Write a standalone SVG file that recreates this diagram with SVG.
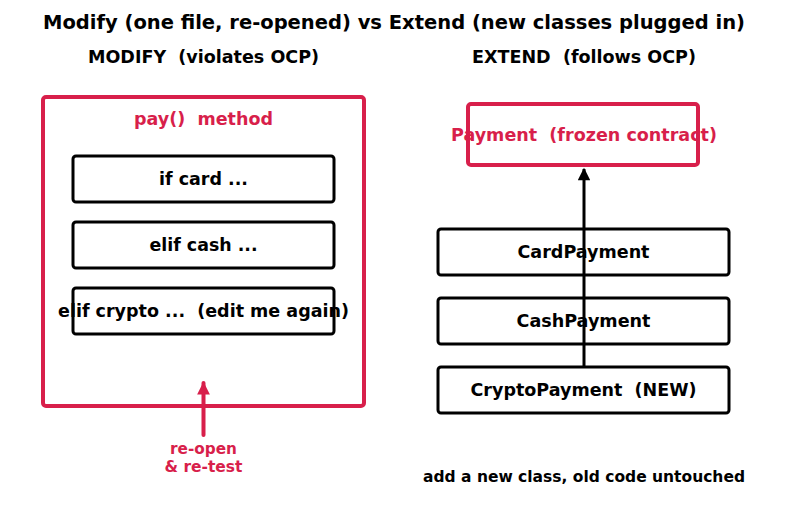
<svg xmlns="http://www.w3.org/2000/svg" width="787" height="507" viewBox="0 0 787 507">
<style>
text{font-family:"DejaVu Sans","Liberation Sans",sans-serif;font-weight:bold;text-anchor:middle;dominant-baseline:central;white-space:pre}
.hd{font-family:"DejaVu Sans Condensed","DejaVu Sans",sans-serif}
.red{fill:#d81f4b}
.lbl{font-size:17.5px;fill:#000}
.box{fill:#fff;stroke:#000;stroke-width:3}
.rbox{fill:none;stroke:#d81f4b;stroke-width:4}
</style>
<defs>
<marker id="ahR" viewBox="0 0 10 10" refX="9" refY="5" markerWidth="3.2" markerHeight="3.2" orient="auto" markerUnits="strokeWidth"><path d="M0,0 L10,5 L0,10 z" fill="#d81f4b"/></marker>
<marker id="ahK" viewBox="0 0 10 10" refX="9" refY="5" markerWidth="4.6" markerHeight="4.2" orient="auto" markerUnits="strokeWidth"><path d="M0,0 L10,5 L0,10 z" fill="#000"/></marker>
</defs>
<rect width="787" height="507" fill="#fff"/>
<text class="hd" x="394" y="22" font-size="19" textLength="702" lengthAdjust="spacingAndGlyphs" xml:space="preserve">Modify (one file, re-opened) vs Extend (new classes plugged in)</text>
<text class="hd" x="203.5" y="57" font-size="17" textLength="231" lengthAdjust="spacingAndGlyphs" xml:space="preserve">MODIFY  (violates OCP)</text>
<text class="hd" x="584" y="57" font-size="17" textLength="224" lengthAdjust="spacingAndGlyphs" xml:space="preserve">EXTEND  (follows OCP)</text>
<g id="modify">
<rect class="rbox" x="43" y="97" width="321" height="309" rx="3"/>
<text class="red" x="203.5" y="119" font-size="17" textLength="139" lengthAdjust="spacingAndGlyphs" xml:space="preserve">pay()  method</text>
</g>
<g id="if-card">
<rect class="box" x="73" y="156" width="261" height="46" rx="3"/>
<text class="lbl" x="203.5" y="179" textLength="89" lengthAdjust="spacingAndGlyphs">if card ...</text>
</g>
<g id="elif-cash">
<rect class="box" x="73" y="222" width="261" height="46" rx="3"/>
<text class="lbl" x="203.5" y="245" textLength="108" lengthAdjust="spacingAndGlyphs">elif cash ...</text>
</g>
<g id="elif-crypto">
<rect class="box" x="73" y="288" width="261" height="46" rx="3"/>
<text class="lbl" x="203.5" y="311" textLength="291" lengthAdjust="spacingAndGlyphs" xml:space="preserve">elif crypto ...  (edit me again)</text>
</g>
<g id="reopen-label">
<text class="red" x="203.5" y="449" font-size="15" textLength="67" lengthAdjust="spacingAndGlyphs">re-open</text>
<text class="red" x="203.5" y="467" font-size="15" textLength="78" lengthAdjust="spacingAndGlyphs">&amp; re-test</text>
</g>
<g id="payment">
<rect class="rbox" x="468" y="104" width="230" height="61" rx="3"/>
<text class="red" x="584" y="135" font-size="17" textLength="266" lengthAdjust="spacingAndGlyphs" xml:space="preserve">Payment  (frozen contract)</text>
</g>
<g id="card-payment">
<rect class="box" x="438" y="229" width="291" height="46" rx="3"/>
<text class="lbl" x="583.5" y="252" textLength="132" lengthAdjust="spacingAndGlyphs">CardPayment</text>
</g>
<g id="cash-payment">
<rect class="box" x="438" y="298" width="291" height="46" rx="3"/>
<text class="lbl" x="583.5" y="321" textLength="134" lengthAdjust="spacingAndGlyphs">CashPayment</text>
</g>
<g id="crypto-payment">
<rect class="box" x="438" y="367" width="291" height="46" rx="3"/>
<text class="lbl" x="583.5" y="390" textLength="226" lengthAdjust="spacingAndGlyphs" xml:space="preserve">CryptoPayment  (NEW)</text>
</g>
<g id="connectors">
<line x1="203.5" y1="435" x2="203.5" y2="383" stroke="#d81f4b" stroke-width="4" stroke-linecap="round" marker-end="url(#ahR)"/>
<line x1="584" y1="367" x2="584" y2="169" stroke="#000" stroke-width="3" marker-end="url(#ahK)"/>
</g>
<text x="584" y="477" font-size="15" textLength="322" lengthAdjust="spacingAndGlyphs">add a new class, old code untouched</text>
</svg>
